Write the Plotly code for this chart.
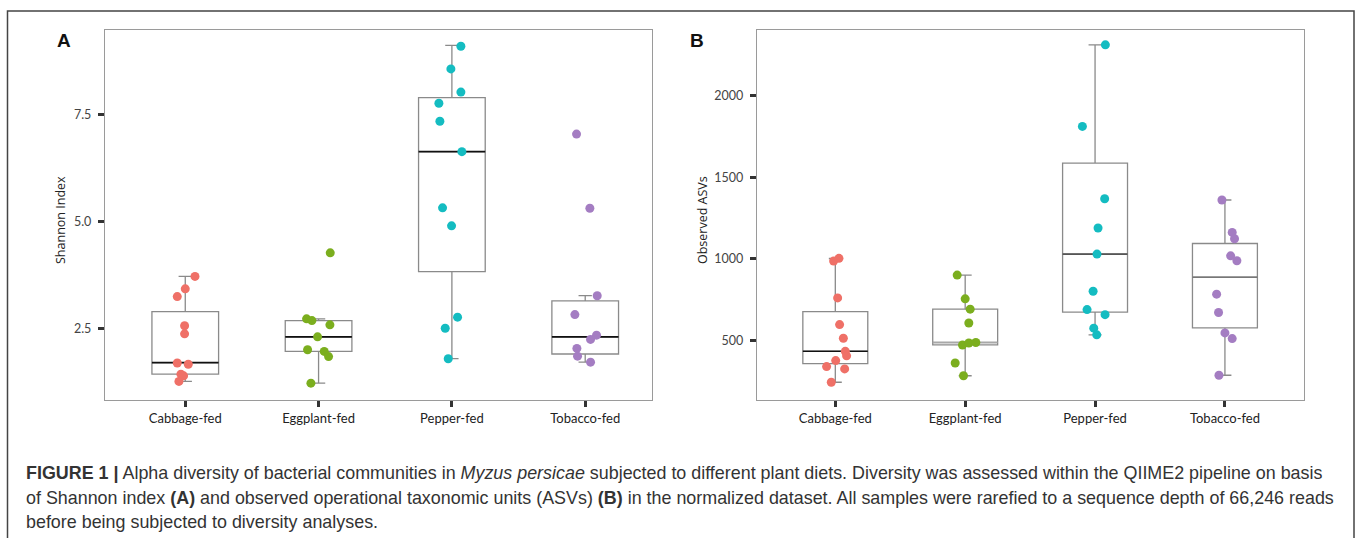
import plotly.graph_objects as go

W, H = 1357, 538

categories = ["Cabbage-fed", "Eggplant-fed", "Pepper-fed", "Tobacco-fed"]
colors = ["#EF7067", "#7BAE1E", "#14BCC1", "#A47DC2"]

# ---------- Panel A: Shannon index ----------
shannon_cabbage = [3.72, 3.43, 3.25, 2.57, 2.38, 1.70, 1.67, 1.44, 1.40, 1.27]
shannon_eggplant = [4.27, 2.73, 2.69, 2.59, 2.31, 2.01, 1.97, 1.85, 1.23]
shannon_pepper = [9.09, 8.56, 8.02, 7.76, 7.34, 6.63, 5.32, 4.90, 2.77, 2.51, 1.80]
shannon_tobacco = [7.04, 5.31, 3.27, 2.83, 2.35, 2.25, 2.04, 1.86, 1.72]

jitter_a_cabbage = [0.073, 0.0, -0.06, -0.005, -0.005, -0.06, 0.0225, -0.0325, -0.0125, -0.0475]
jitter_a_eggplant = [0.0875, -0.09, -0.05, 0.085, -0.0075, -0.0825, 0.0425, 0.075, -0.0575]
jitter_a_pepper = [0.0675, -0.0075, 0.0675, -0.0975, -0.09, 0.075, -0.07, -0.0025, 0.0425, -0.05, -0.0275]
jitter_a_tobacco = [-0.065, 0.035, 0.09, -0.0775, 0.085, 0.04, -0.0625, -0.0575, 0.04]

shannon_q1 = [1.44, 1.97, 3.83, 1.91]
shannon_median = [1.71, 2.31, 6.63, 2.31]
shannon_q3 = [2.90, 2.69, 7.89, 3.15]
shannon_lower = [1.27, 1.23, 1.80, 1.72]
shannon_upper = [3.72, 2.73, 9.11, 3.27]

shannon_ticks = [2.5, 5.0, 7.5]
shannon_ticktext = ["2.5", "5.0", "7.5"]

# ---------- Panel B: Observed ASVs ----------
asv_cabbage = [1003, 986, 760, 596, 512, 432, 404, 375, 338, 324, 242]
asv_eggplant = [900, 754, 691, 606, 471, 483, 486, 360, 282]
asv_pepper = [2314, 1813, 1369, 1189, 1029, 801, 688, 657, 574, 533]
asv_tobacco = [1361, 1162, 1123, 1018, 988, 783, 670, 545, 510, 285]

jitter_b_cabbage = [0.028, -0.013, 0.018, 0.033, 0.062, 0.077, 0.087, 0.003, -0.067, 0.072, -0.031]
jitter_b_eggplant = [-0.0616, 0.0, 0.0385, 0.028, -0.0205, 0.028, 0.082, -0.077, -0.013]
jitter_b_pepper = [0.0795, -0.0975, 0.074, 0.023, 0.015, -0.015, -0.0616, 0.077, -0.01, 0.013]
jitter_b_tobacco = [-0.023, 0.056, 0.074, 0.044, 0.092, -0.064, -0.049, 0.0, 0.056, -0.046]

asv_q1 = [356, 471, 672, 576]
asv_median = [432, 486, 1029, 887]
asv_q3 = [676, 691, 1588, 1094]
asv_lower = [242, 282, 533, 285]
asv_upper = [1002, 900, 2314, 1361]

asv_ticks = [500, 1000, 1500, 2000]

caption_lines = [
    "<b>FIGURE 1 |</b> Alpha diversity of bacterial communities in <i>Myzus persicae</i> subjected to different plant diets. "
    "Diversity was assessed within the QIIME2 pipeline on basis",
    "of Shannon index <b>(A)</b> and observed operational taxonomic units (ASVs) <b>(B)</b> in the normalized dataset. "
    "All samples were rarefied to a sequence depth of 66,246 reads",
    "before being subjected to diversity analyses.",
]

# ---------- figure ----------
positions = [1, 2, 3, 4]
box_width = 0.5
fig = go.Figure()


def px_x(v):
    return v / W


def px_y(v):
    return 1 - v / H


def add_panel(xa, ya, q1, med, q3, lo, hi, med_colors, groups, jitters):
    fig.add_trace(go.Box(
        x=positions, q1=q1, median=med, q3=q3, lowerfence=lo, upperfence=hi,
        width=box_width, whiskerwidth=0.2, fillcolor="white",
        line=dict(color="#8a8a8a", width=1.3), boxpoints=False,
        xaxis=xa, yaxis=ya, showlegend=False, hoverinfo="skip",
    ))
    for p, m, c in zip(positions, med, med_colors):
        fig.add_trace(go.Scatter(
            x=[p - box_width / 2, p + box_width / 2], y=[m, m], mode="lines",
            line=dict(color=c, width=1.6), xaxis=xa, yaxis=ya,
            showlegend=False, hoverinfo="skip",
        ))
    for p, vals, jit, col in zip(positions, groups, jitters, colors):
        fig.add_trace(go.Scatter(
            x=[p + j for j in jit], y=vals, mode="markers",
            marker=dict(color=col, size=9, line=dict(width=0)),
            xaxis=xa, yaxis=ya, showlegend=False,
        ))


add_panel("x", "y", shannon_q1, shannon_median, shannon_q3, shannon_lower, shannon_upper,
          ["#111111"] * 4,
          [shannon_cabbage, shannon_eggplant, shannon_pepper, shannon_tobacco],
          [jitter_a_cabbage, jitter_a_eggplant, jitter_a_pepper, jitter_a_tobacco])
add_panel("x2", "y2", asv_q1, asv_median, asv_q3, asv_lower, asv_upper,
          ["#111111", "#a8a8a8", "#555555", "#777777"],
          [asv_cabbage, asv_eggplant, asv_pepper, asv_tobacco],
          [jitter_b_cabbage, jitter_b_eggplant, jitter_b_pepper, jitter_b_tobacco])

axis_common = dict(
    showgrid=False, zeroline=False, showline=True, mirror=True,
    linecolor="#9a9a9a", linewidth=1.3,
    ticks="outside", ticklen=6, tickwidth=3, tickcolor="#333333",
)
xfont = dict(family="Lato, Open Sans, sans-serif", size=13, color="#222222")
yfont = dict(family="Lato, Open Sans, sans-serif", size=12.5, color="#444444")

plot_top, plot_bottom = 29.5, 400

fig.update_layout(
    width=W, height=H,
    margin=dict(l=0, r=0, t=0, b=0),
    paper_bgcolor="white", plot_bgcolor="white",
    xaxis=dict(domain=[px_x(105), px_x(652)], range=[0.398, 4.501],
               tickvals=positions, ticktext=categories, tickfont=xfont,
               anchor="y", **axis_common),
    yaxis=dict(domain=[px_y(plot_bottom), px_y(plot_top)], range=[0.837, 9.48],
               tickvals=shannon_ticks, ticktext=shannon_ticktext, tickfont=yfont,
               ticklabelstandoff=4, anchor="x", **axis_common),
    xaxis2=dict(domain=[px_x(757), px_x(1303.5)], range=[0.397, 4.605],
                tickvals=positions, ticktext=categories, tickfont=xfont,
                anchor="y2", **axis_common),
    yaxis2=dict(domain=[px_y(plot_bottom), px_y(plot_top)], range=[133, 2408],
                tickvals=asv_ticks, tickfont=yfont,
                ticklabelstandoff=4, anchor="x2", **axis_common),
    font=dict(family="Liberation Sans, Arial, sans-serif"),
)

annotations = [
    dict(text="<b>A</b>", x=px_x(64), y=px_y(40), xref="paper", yref="paper",
         showarrow=False, font=dict(size=19, color="#111111", family="Liberation Sans, Arial"),
         xanchor="center", yanchor="middle"),
    dict(text="<b>B</b>", x=px_x(697), y=px_y(40), xref="paper", yref="paper",
         showarrow=False, font=dict(size=19, color="#111111", family="Liberation Sans, Arial"),
         xanchor="center", yanchor="middle"),
    dict(text="Shannon Index", x=px_x(60), y=px_y(220), xref="paper", yref="paper",
         showarrow=False, textangle=-90,
         font=dict(size=12.5, color="#222222", family="Open Sans, sans-serif"),
         xanchor="center", yanchor="middle"),
    dict(text="Observed ASVs", x=px_x(702), y=px_y(220), xref="paper", yref="paper",
         showarrow=False, textangle=-90,
         font=dict(size=12.5, color="#222222", family="Open Sans, sans-serif"),
         xanchor="center", yanchor="middle"),
]
for i, line in enumerate(caption_lines):
    annotations.append(dict(
        text=line, x=px_x(24), y=px_y(473 + 24.5 * i), xref="paper", yref="paper",
        showarrow=False, xanchor="left", yanchor="middle", align="left",
        font=dict(size=17.9, color="#333333", family="Liberation Sans, Arial, sans-serif"),
    ))
fig.update_layout(annotations=annotations)

fig.add_shape(type="rect", xref="paper", yref="paper",
              x0=px_x(7.5), x1=px_x(1354), y0=px_y(560), y1=px_y(11),
              line=dict(color="#444444", width=1.5), fillcolor="rgba(0,0,0,0)", layer="below")

fig.write_html("out.html", config={"displayModeBar": False},
               post_script="document.body.style.margin='0';")
